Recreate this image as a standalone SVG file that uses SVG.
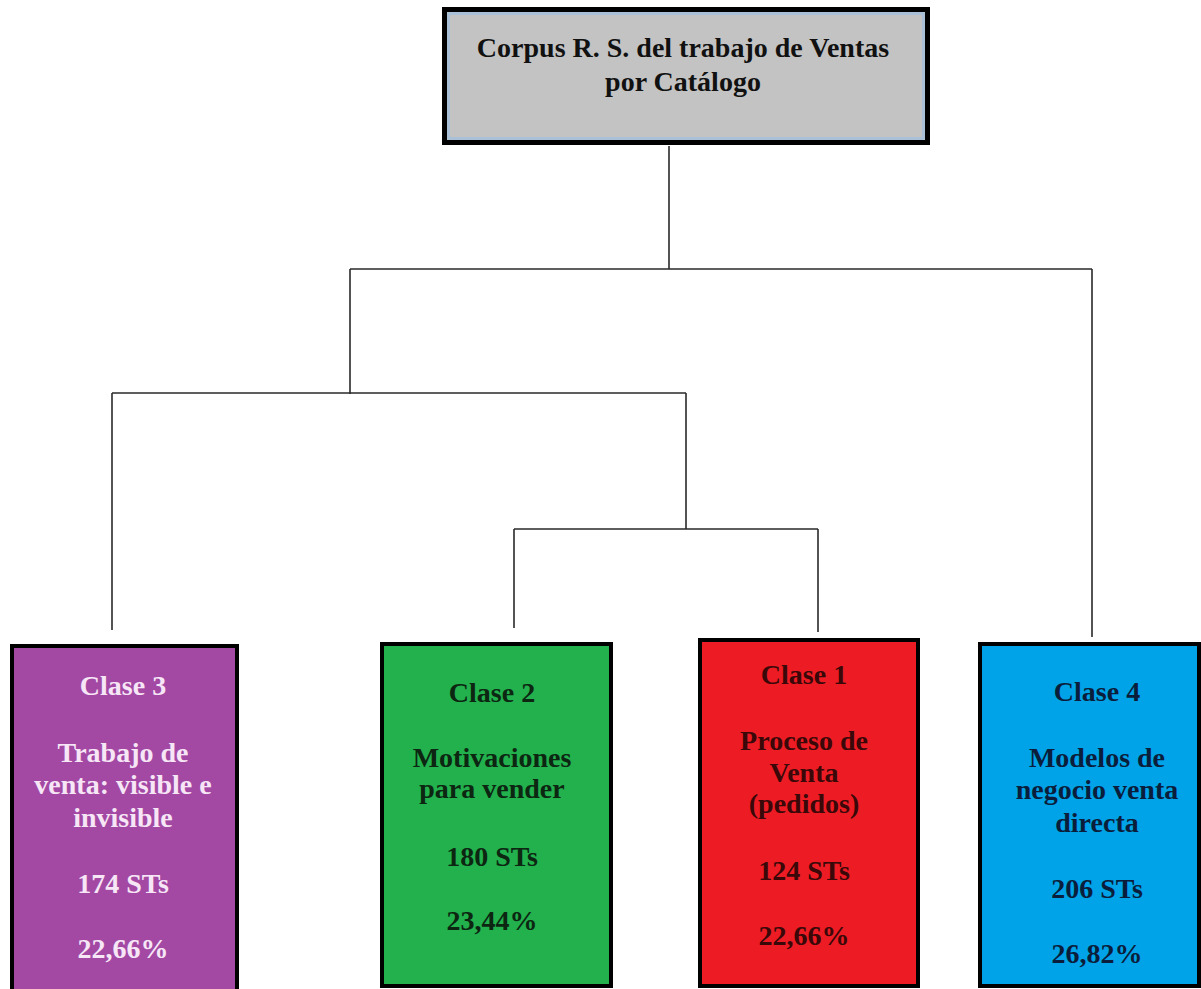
<svg xmlns="http://www.w3.org/2000/svg" width="1201" height="989" viewBox="0 0 1201 989">
<style>
.t{font-family:"Liberation Serif","Times New Roman",serif;font-weight:bold;font-size:28px;text-anchor:middle}
.box{stroke:#000;stroke-width:4}
.c{fill:none;stroke:#2a2a2a;stroke-width:1.6}
</style>
<rect width="1201" height="989" fill="#ffffff"/>
<g id="connectors">
<path class="c" d="M669,146 V269 M350,269 H1092 M350,269 V394 M112,393 H686 M112,393 V630 M686,393 V529 M514,529 H818 M514,529 V628 M818,529 V632 M1092,269 V637"/>
</g>
<g id="root">
<rect x="444.5" y="9.5" width="483" height="133" fill="#c3c3c3" stroke="#000" stroke-width="5"/>
<rect x="448.5" y="13.5" width="475" height="125" fill="none" stroke="#a9c0d6" stroke-width="3"/>
<text class="t" x="683" y="57" fill="#111">Corpus R. S. del trabajo de Ventas</text>
<text class="t" x="683" y="91" fill="#111">por Catálogo</text>
</g>
<g id="clase3">
<rect class="box" x="12" y="646" width="225" height="360" fill="#a349a4"/>
<g class="t" fill="#f6e6f6">
<text x="123" y="695">Clase 3</text>
<text x="123" y="762">Trabajo de</text>
<text x="123" y="794">venta: visible e</text>
<text x="123" y="827">invisible</text>
<text x="123" y="893">174 STs</text>
<text x="123" y="958">22,66%</text>
</g>
</g>
<g id="clase2">
<rect class="box" x="382" y="644" width="229" height="342" fill="#22b14c"/>
<g class="t" fill="#0c2612">
<text x="492" y="702">Clase 2</text>
<text x="492" y="767">Motivaciones</text>
<text x="492" y="798">para vender</text>
<text x="492" y="866">180 STs</text>
<text x="492" y="930">23,44%</text>
</g>
</g>
<g id="clase1">
<rect class="box" x="700" y="640" width="218" height="346" fill="#ed1c24"/>
<g class="t" fill="#3a0808">
<text x="804" y="684">Clase 1</text>
<text x="804" y="750">Proceso de</text>
<text x="804" y="782">Venta</text>
<text x="804" y="813">(pedidos)</text>
<text x="804" y="880">124 STs</text>
<text x="804" y="945">22,66%</text>
</g>
</g>
<g id="clase4">
<rect class="box" x="980" y="644" width="219" height="342" fill="#00a2e8"/>
<g class="t" fill="#0a1e3c">
<text x="1097" y="701">Clase 4</text>
<text x="1097" y="767">Modelos de</text>
<text x="1097" y="799">negocio venta</text>
<text x="1097" y="832">directa</text>
<text x="1097" y="898">206 STs</text>
<text x="1097" y="963">26,82%</text>
</g>
</g>
</svg>
